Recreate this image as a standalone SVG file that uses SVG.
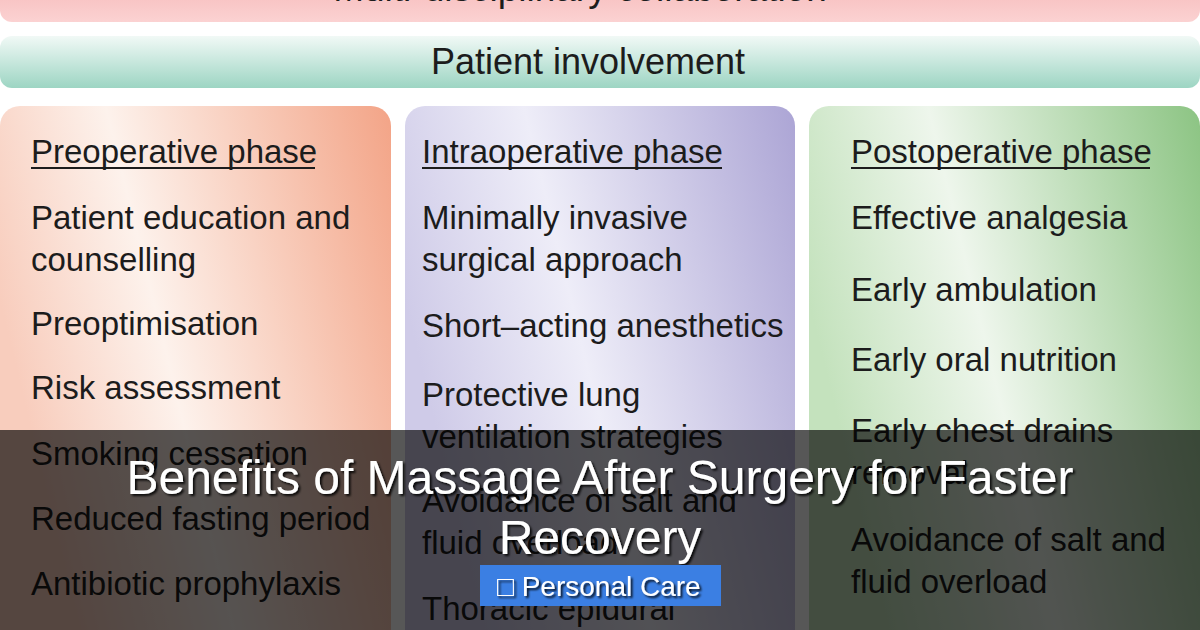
<svg xmlns="http://www.w3.org/2000/svg" width="1200" height="630" viewBox="0 0 1200 630">
<style>
  .t{font-family:"Liberation Sans",Arial,sans-serif;font-size:33px;fill:#1c1c1c}
  .band{font-family:"Liberation Sans",Arial,sans-serif;font-size:36px;fill:#1c1c1c;text-anchor:middle}
  .title{font-family:"Liberation Sans",Arial,sans-serif;font-size:48px;fill:#ffffff;text-anchor:middle}
  .badge{font-family:"Liberation Sans","DejaVu Sans",Arial,sans-serif;font-size:28px;fill:#ffffff}
  .ul{stroke:#1c1c1c;stroke-width:2}
</style>
<defs>
  <linearGradient id="gPink" x1="0" y1="0" x2="0" y2="1">
    <stop offset="0" stop-color="#f6b9b9"/>
    <stop offset="1" stop-color="#fbd2d2"/>
  </linearGradient>
  <linearGradient id="gTeal" x1="0" y1="0" x2="0" y2="1">
    <stop offset="0" stop-color="#f1f9f6"/>
    <stop offset="1" stop-color="#9dd5c3"/>
  </linearGradient>
  <linearGradient id="gPre" x1="0" y1="0.35" x2="1" y2="0">
    <stop offset="0" stop-color="#f8cdbd"/>
    <stop offset="0.35" stop-color="#fdf2ec"/>
    <stop offset="1" stop-color="#f3a487"/>
  </linearGradient>
  <linearGradient id="gIntra" x1="0" y1="0.35" x2="1" y2="0">
    <stop offset="0" stop-color="#cfcbe8"/>
    <stop offset="0.38" stop-color="#eeedf8"/>
    <stop offset="1" stop-color="#aca5d5"/>
  </linearGradient>
  <linearGradient id="gPost" x1="0" y1="0.35" x2="1" y2="0">
    <stop offset="0" stop-color="#c4e2bd"/>
    <stop offset="0.38" stop-color="#eef6ec"/>
    <stop offset="1" stop-color="#8cc483"/>
  </linearGradient>
  <filter id="sh" x="-5%" y="-20%" width="110%" height="140%">
    <feDropShadow dx="2" dy="2" stdDeviation="1" flood-color="#000" flood-opacity="0.85"/>
  </filter>
</defs>
<rect width="1200" height="630" fill="#ffffff"/>

<g id="collab">
  <rect x="0" y="-20" width="1200" height="42" rx="12" fill="url(#gPink)"/>
  <text class="band" x="580" y="1" style="font-size:37px">Multi-disciplinary collaboration</text>
</g>

<g id="involvement">
  <rect x="0" y="36" width="1200" height="52" rx="12" fill="url(#gTeal)"/>
  <text class="band" x="588" y="74">Patient involvement</text>
</g>

<g id="preoperative">
  <rect x="0" y="106" width="391" height="560" rx="20" fill="url(#gPre)"/>
  <text class="t" x="31" y="163">Preoperative phase</text>
  <line class="ul" x1="31" y1="168" x2="315" y2="168"/>
  <text class="t" x="31" y="229">Patient education and</text>
  <text class="t" x="31" y="271">counselling</text>
  <text class="t" x="31" y="335">Preoptimisation</text>
  <text class="t" x="31" y="399">Risk assessment</text>
  <text class="t" x="31" y="465">Smoking cessation</text>
  <text class="t" x="31" y="530">Reduced fasting period</text>
  <text class="t" x="31" y="595">Antibiotic prophylaxis</text>
</g>

<g id="intraoperative">
  <rect x="405" y="106" width="390" height="560" rx="20" fill="url(#gIntra)"/>
  <text class="t" x="422" y="163">Intraoperative phase</text>
  <line class="ul" x1="422" y1="168" x2="722" y2="168"/>
  <text class="t" x="422" y="229">Minimally invasive</text>
  <text class="t" x="422" y="271">surgical approach</text>
  <text class="t" x="422" y="337">Short–acting anesthetics</text>
  <text class="t" x="422" y="406">Protective lung</text>
  <text class="t" x="422" y="448">ventilation strategies</text>
  <text class="t" x="422" y="512">Avoidance of salt and</text>
  <text class="t" x="422" y="554">fluid overload</text>
  <text class="t" x="422" y="620">Thoracic epidural</text>
</g>

<g id="postoperative">
  <rect x="809" y="106" width="391" height="560" rx="20" fill="url(#gPost)"/>
  <text class="t" x="851" y="163">Postoperative phase</text>
  <line class="ul" x1="851" y1="168" x2="1150" y2="168"/>
  <text class="t" x="851" y="229">Effective analgesia</text>
  <text class="t" x="851" y="301">Early ambulation</text>
  <text class="t" x="851" y="371">Early oral nutrition</text>
  <text class="t" x="851" y="442">Early chest drains</text>
  <text class="t" x="851" y="484">removal</text>
  <text class="t" x="851" y="551">Avoidance of salt and</text>
  <text class="t" x="851" y="593">fluid overload</text>
</g>

<g id="overlay">
  <rect x="0" y="430" width="1200" height="200" fill="#000000" fill-opacity="0.66"/>
</g>

<g id="title" filter="url(#sh)">
  <text class="title" x="600" y="494">Benefits of Massage After Surgery for Faster</text>
  <text class="title" x="600" y="554">Recovery</text>
</g>

<g id="category">
  <rect x="480" y="565" width="241" height="41" fill="#3b7fe3"/>
  <text class="badge" x="497" y="596" filter="url(#sh)">□ Personal Care</text>
</g>
</svg>
